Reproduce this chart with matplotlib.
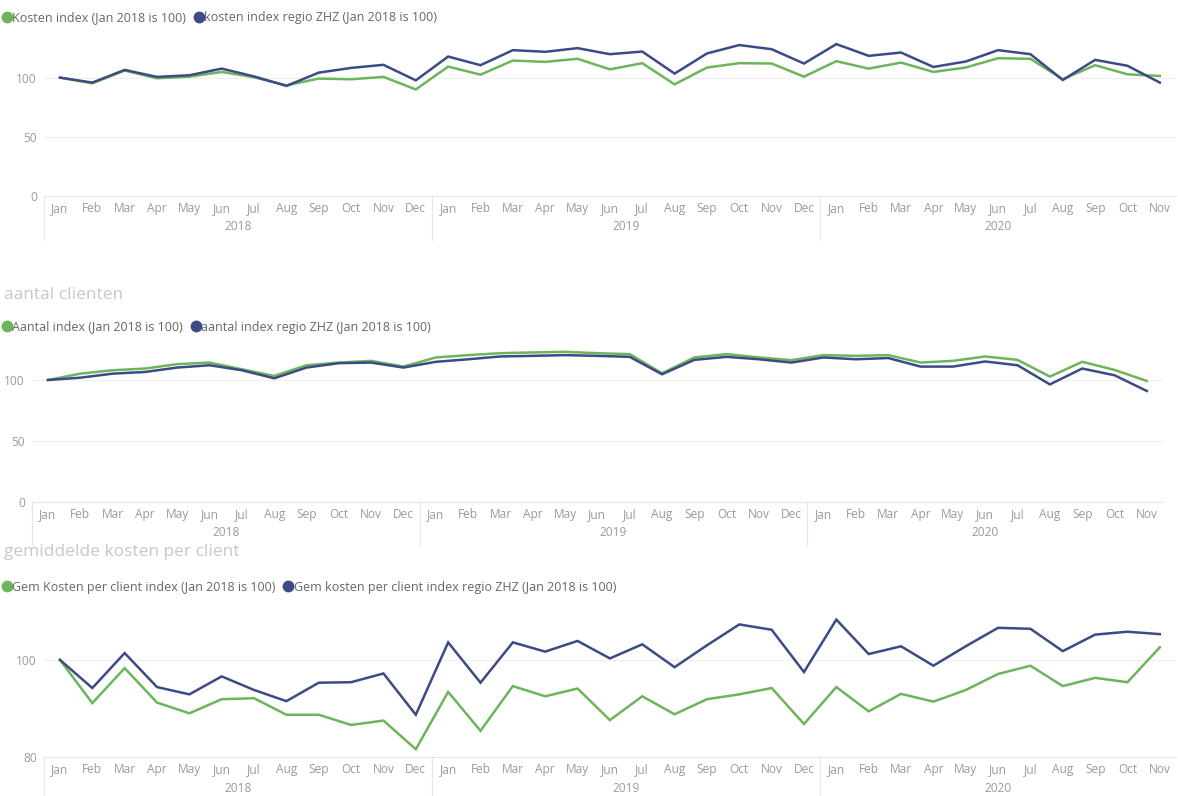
import matplotlib
matplotlib.use("Agg")
import matplotlib.pyplot as plt
from matplotlib.lines import Line2D
from matplotlib.transforms import blended_transform_factory

plt.rcParams['font.family'] = ['Open Sans', 'DejaVu Sans']

# Data
months = ['Jan', 'Feb', 'Mar', 'Apr', 'May', 'Jun', 'Jul', 'Aug', 'Sep', 'Oct', 'Nov', 'Dec'] * 2 + \
         ['Jan', 'Feb', 'Mar', 'Apr', 'May', 'Jun', 'Jul', 'Aug', 'Sep', 'Oct', 'Nov']
years = ['2018', '2019', '2020']
year_counts = [12, 12, 11]

kosten_index = [100, 95.2, 106, 99.4, 100.8, 104.8, 100.3, 93.5, 99.2, 98.6, 100.6, 90,
                109.3, 102.5, 114.4, 113.3, 115.9, 107, 112.2, 94.3, 108.5, 112.2, 111.9, 100.8,
                113.9, 107.6, 112.7, 104.8, 108.5, 116.4, 115.9, 98.6, 110.5, 102.8, 101.4]
kosten_index_zhz = [100, 95.8, 106.5, 100.6, 102, 107.6, 101, 93, 104.2, 108.2, 110.8, 97.7,
                    117.8, 110.5, 123.2, 121.8, 124.9, 119.8, 122, 103.4, 120.4, 127.5, 124, 111.9,
                    128.3, 118.4, 121.2, 109, 113.6, 123.2, 119.8, 98, 115, 110, 95.8]

aantal_index = [100, 105.2, 108, 109.4, 113, 114.3, 108.8, 103.3, 112.1, 114.3, 115.7, 111,
                118.5, 120.4, 122, 122.6, 123.1, 122, 121.2, 105.5, 118.5, 121.2, 118.5, 116.3,
                120.4, 119.8, 120.4, 114.3, 115.7, 119.3, 116.5, 102.8, 114.9, 108.3, 99.2]
aantal_index_zhz = [100, 101.9, 105.2, 106.6, 110.2, 112.1, 108, 101.4, 110.2, 113.8, 114.3, 110.2,
                    114.9, 117, 119.3, 119.8, 120.4, 119.8, 119, 104.7, 116.5, 119, 117, 114.3,
                    118.5, 117, 118, 111, 111, 115.2, 112.1, 96.4, 109.4, 103.9, 91]

gem_index = [100, 91.1, 98.3, 91.2, 89, 91.9, 92.1, 88.7, 88.7, 86.6, 87.5, 81.6,
             93.4, 85.4, 94.6, 92.5, 94.1, 87.6, 92.5, 88.8, 91.9, 92.9, 94.2, 86.8,
             94.4, 89.4, 93, 91.4, 93.8, 97.1, 98.8, 94.6, 96.3, 95.4, 102.6]
gem_index_zhz = [100, 94.2, 101.4, 94.4, 92.9, 96.6, 93.8, 91.5, 95.3, 95.4, 97.2, 88.7,
                 103.6, 95.3, 103.6, 101.7, 103.9, 100.3, 103.2, 98.5, 103, 107.3, 106.2, 97.5,
                 108.3, 101.2, 102.8, 98.8, 102.8, 106.6, 106.4, 101.8, 105.2, 105.8, 105.3]

GREEN = '#6db55a'
BLUE = '#3c4a86'
GREY = '#9a9a9a'
W, H = 1178, 796

fig = plt.figure(figsize=(W / 100, H / 100), dpi=100)


def make_axes(left, right, top, bottom):
    return fig.add_axes([left / W, 1 - bottom / H, (right - left) / W, (bottom - top) / H])


def draw_panel(ax, green, blue, ylim, yticks, height_px, labels, legend_y, legend_x=0):
    x = range(len(months))
    ax.plot(x, green, color=GREEN, lw=1.8, solid_joinstyle='miter')
    ax.plot(x, blue, color=BLUE, lw=1.8, solid_joinstyle='miter')
    ax.set_xlim(-0.5, len(months) - 0.5)
    ax.set_ylim(*ylim)
    ax.set_yticks(yticks)
    ax.set_yticklabels([str(t) for t in yticks])
    ax.set_xticks(list(x))
    ax.set_xticklabels(months)
    ax.tick_params(axis='both', length=0, labelsize=8.6, labelcolor=GREY)
    ax.tick_params(axis='x', pad=4.5)
    ax.tick_params(axis='y', pad=5)
    for s in ['top', 'right', 'left']:
        ax.spines[s].set_visible(False)
    ax.spines['bottom'].set_color('#e6e6e6')
    ax.spines['bottom'].set_linewidth(0.8)
    ax.grid(axis='y', color='#efefef', lw=0.8)
    ax.set_axisbelow(True)

    # hierarchy: year labels and separators
    trans = blended_transform_factory(ax.transData, ax.transAxes)
    depth = 44 / height_px
    start = 0
    bounds = [-0.5]
    for yr, n in zip(years, year_counts):
        center = start + (n - 1) / 2
        ax.annotate(yr, xy=(center, 0), xycoords=trans, xytext=(0, -31),
                    textcoords='offset pixels', ha='center', va='center',
                    fontsize=8.6, color=GREY)
        start += n
        bounds.append(start - 0.5)
    for b in bounds[:-1]:
        ax.add_line(Line2D([b, b], [0, -depth], transform=trans, color='#e6e6e6',
                           lw=0.8, clip_on=False))

    handles = [Line2D([], [], marker='o', ls='', color=GREEN, markersize=7.5),
               Line2D([], [], marker='o', ls='', color=BLUE, markersize=7.5)]
    fig.legend(handles, labels, loc='center left',
               bbox_to_anchor=(legend_x / W, 1 - legend_y / H), ncol=2, frameon=False,
               fontsize=9, labelcolor='#666666', handlelength=0.6, handletextpad=0.15,
               columnspacing=0.7, borderpad=0, borderaxespad=0)


ax1 = make_axes(43.8, 1176, 35, 196)
draw_panel(ax1, kosten_index, kosten_index_zhz, (0, 136), [0, 50, 100], 161,
           ['Kosten index (Jan 2018 is 100)', 'kosten index regio ZHZ (Jan 2018 is 100)'], 18, 3)

ax2 = make_axes(31.8, 1163, 345, 502)
draw_panel(ax2, aantal_index, aantal_index_zhz, (0, 128.7), [0, 50, 100], 157,
           ['Aantal index (Jan 2018 is 100)', 'aantal index regio ZHZ (Jan 2018 is 100)'], 327, 3)

ax3 = make_axes(43.8, 1176, 605, 757)
draw_panel(ax3, gem_index, gem_index_zhz, (80, 111.3), [80, 100], 152,
           ['Gem Kosten per client index (Jan 2018 is 100)',
            'Gem kosten per client index regio ZHZ (Jan 2018 is 100)'], 587, 3)

fig.text(4 / W, 1 - 295 / H, 'aantal clienten', fontsize=12.5, color='#c8c8c8', va='center')
fig.text(4 / W, 1 - 552 / H, 'gemiddelde kosten per client', fontsize=12.5, color='#c8c8c8',
         va='center')

fig.savefig('out.png', dpi=100)
